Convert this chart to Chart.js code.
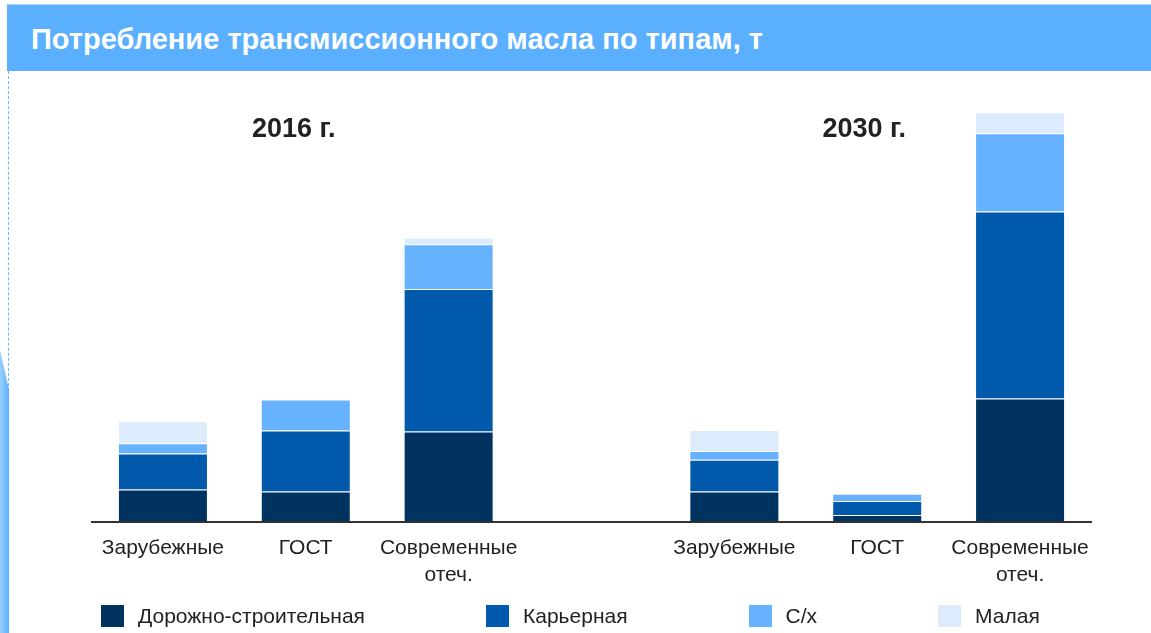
<!DOCTYPE html>
<html lang="ru">
<head>
  <meta charset="UTF-8" />
  <title>Потребление трансмиссионного масла по типам</title>
  <script src="https://cdn.jsdelivr.net/npm/chart.js"></script>
  <style>
    * { box-sizing: border-box; margin: 0; padding: 0; }
    body { width: 1151px; height: 633px; background: #fff; font-family: "Liberation Sans", Arial, sans-serif; overflow: hidden; position: relative; }
    .title-bar {
      position: absolute; top: 4px; left: 7px; right: 0; height: 67px;
      background: #5aafff; border-top: 1px solid #a9d5ff;
      color: #fff; font-weight: bold; font-size: 29px;
      padding-left: 24px; line-height: 68px; z-index: 2;
    }
    .dash { position: absolute; left: 8px; top: 71px; height: 320px; border-left: 1px dashed #6bb7ff; }
    .side {
      position: absolute; left: 0; top: 350px; width: 9px; bottom: 0;
      background: linear-gradient(to right, #9ccfff, #5aafff);
      clip-path: polygon(0 0, 100% 40px, 100% 100%, 0 100%);
    }
    #chart { position: absolute; left: 0; top: 0; }
    .legend { position: absolute; left: 101px; top: 604px; display: flex; gap: 121px; font-size: 21px; color: #222; }
    .legend div { display: flex; align-items: center; height: 23px; }
    .legend span { display: inline-block; width: 23px; height: 22px; margin-right: 14px; }
  </style>
</head>
<body>

<div class="title-bar">Потребление трансмиссионного масла по типам, т</div>
<div class="dash"></div>
<div class="side"></div>
<canvas id="chart" width="1151" height="633"></canvas>
<div class="legend" id="legend"></div>

<script>
  const categories = ['Зарубежные', 'ГОСТ', ['Современные', 'отеч.'], '', 'Зарубежные', 'ГОСТ', ['Современные', 'отеч.']];
  const years = ['2016 г.', '2030 г.'];
  const seriesNames = ['Дорожно-строительная', 'Карьерная', 'С/х', 'Малая'];
  const roadValues = [32, 30, 90, null, 30, 6.5, 123];
  const quarryValues = [36, 61, 142.6, null, 31.7, 14, 187];
  const farmValues = [10.3, 31, 44.7, null, 8.7, 7.3, 78.3];
  const smallValues = [22.3, 0, 6.7, null, 21, 0, 21];
  const colors = ['#00335f', '#0059aa', '#66b2ff', '#dcecfd'];

  const allSeries = [roadValues, quarryValues, farmValues, smallValues];

  // year captions over each group, placed from the category scale
  const yearLabels = {
    id: 'yearLabels',
    afterDraw(chart) {
      const ctx = chart.ctx;
      const x = chart.scales.x;
      ctx.save();
      ctx.font = 'bold 27px "Liberation Sans", Arial, sans-serif';
      ctx.fillStyle = '#222';
      ctx.textAlign = 'center';
      ctx.textBaseline = 'alphabetic';
      ctx.fillText(years[0], x.getPixelForValue(1) - 12, 137);
      ctx.fillText(years[1], x.getPixelForValue(5) - 13, 137);
      ctx.restore();
    }
  };

  new Chart(document.getElementById('chart'), {
    type: 'bar',
    data: {
      labels: categories,
      datasets: allSeries.map((vals, i) => ({
        label: seriesNames[i],
        data: vals,
        backgroundColor: colors[i],
        borderColor: 'rgba(255,255,255,0.12)',
        borderWidth: 1,
        barPercentage: 0.63,
        categoryPercentage: 1
      }))
    },
    options: {
      responsive: false,
      animation: false,
      layout: { padding: { left: 91.5, right: 59.5, top: 101.5, bottom: 0 } },
      plugins: { legend: { display: false }, tooltip: { enabled: false } },
      scales: {
        x: {
          stacked: true,
          grid: { display: false, drawTicks: false },
          border: { color: '#333', width: 2 },
          ticks: { color: '#222', font: { size: 21, family: '"Liberation Sans", Arial, sans-serif', lineHeight: 1.3 }, padding: 13, maxRotation: 0, autoSkip: false },
          afterFit(scale) { scale.height = 111.5; }
        },
        y: { stacked: true, display: false, min: 0, max: 420 }
      }
    },
    plugins: [yearLabels]
  });

  const legend = document.getElementById('legend');
  seriesNames.forEach((name, i) => {
    const item = document.createElement('div');
    item.innerHTML = '<span style="background:' + colors[i] + '"></span>' + name;
    legend.appendChild(item);
  });
</script>

</body>
</html>
